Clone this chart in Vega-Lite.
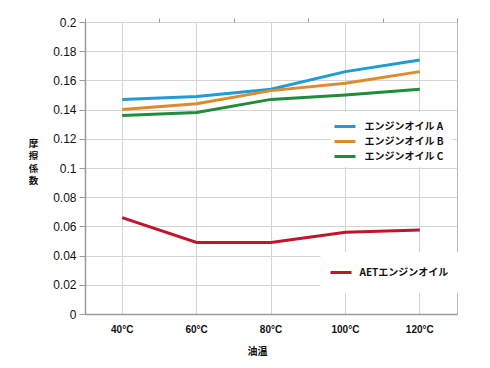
{
  "$schema": "https://vega.github.io/schema/vega-lite/v6.json",
  "width": 372,
  "height": 292,
  "autosize": {"type": "none"},
  "padding": {"left": 85, "top": 22, "right": 33, "bottom": 54},
  "background": "white",
  "config": {
    "view": {"stroke": "#b8b8b8", "strokeWidth": 1},
    "axis": {"gridColor": "#d4d4d4", "gridWidth": 1, "domainColor": "#9a9a9a", "domainWidth": 1.5, "tickColor": "#9a9a9a", "labelColor": "#111", "titleColor": "#111"},
    "legend": {"symbolStrokeWidth": 3, "labelFont": "Noto Sans CJK JP", "labelFontSize": 10, "labelFontWeight": "bold", "labelColor": "#111", "rowPadding": 0, "symbolType": "M-2.1,0H2.1", "symbolSize": 100, "fillColor": "white", "strokeColor": null}
  },
  "data": {"values": [
    {"temp": "40°C", "oil": "エンジンオイル A", "mu": 0.147},
    {"temp": "60°C", "oil": "エンジンオイル A", "mu": 0.149},
    {"temp": "80°C", "oil": "エンジンオイル A", "mu": 0.154},
    {"temp": "100°C", "oil": "エンジンオイル A", "mu": 0.166},
    {"temp": "120°C", "oil": "エンジンオイル A", "mu": 0.174},
    {"temp": "40°C", "oil": "エンジンオイル B", "mu": 0.140},
    {"temp": "60°C", "oil": "エンジンオイル B", "mu": 0.144},
    {"temp": "80°C", "oil": "エンジンオイル B", "mu": 0.153},
    {"temp": "100°C", "oil": "エンジンオイル B", "mu": 0.158},
    {"temp": "120°C", "oil": "エンジンオイル B", "mu": 0.166},
    {"temp": "40°C", "oil": "エンジンオイル C", "mu": 0.136},
    {"temp": "60°C", "oil": "エンジンオイル C", "mu": 0.138},
    {"temp": "80°C", "oil": "エンジンオイル C", "mu": 0.147},
    {"temp": "100°C", "oil": "エンジンオイル C", "mu": 0.150},
    {"temp": "120°C", "oil": "エンジンオイル C", "mu": 0.154},
    {"temp": "40°C", "oil": "AETエンジンオイル", "mu": 0.066},
    {"temp": "60°C", "oil": "AETエンジンオイル", "mu": 0.049},
    {"temp": "80°C", "oil": "AETエンジンオイル", "mu": 0.049},
    {"temp": "100°C", "oil": "AETエンジンオイル", "mu": 0.056},
    {"temp": "120°C", "oil": "AETエンジンオイル", "mu": 0.0575}
  ]},
  "encoding": {
    "y": {
      "field": "mu", "type": "quantitative",
      "scale": {"domain": [0, 0.2], "nice": false, "zero": true},
      "axis": {
        "values": [0, 0.02, 0.04, 0.06, 0.08, 0.1, 0.12, 0.14, 0.16, 0.18, 0.2],
        "labelExpr": "format(datum.value, '~g')",
        "labelFont": "Liberation Sans", "labelFontSize": 12, "labelPadding": 3, "tickSize": 6,
        "title": ["摩", "擦", "係", "数"],
        "titleFont": "Noto Sans CJK JP", "titleFontSize": 9.5, "titleFontWeight": "bold",
        "titleAngle": 0, "titleAlign": "center", "titleBaseline": "top",
        "titleX": -52, "titleY": 116, "titleLineHeight": 12.5
      }
    }
  },
  "layer": [
    {
      "transform": [{"filter": "datum.oil === 'エンジンオイル A' || datum.oil === 'エンジンオイル B'"}],
      "mark": {"type": "line", "strokeWidth": 3},
      "encoding": {
        "x": {
          "field": "temp", "type": "ordinal",
          "scale": {"type": "band", "paddingInner": 0, "paddingOuter": 0, "domain": ["40°C", "60°C", "80°C", "100°C", "120°C"]},
          "axis": {
            "labelAngle": 0, "ticks": false, "tickSize": 0, "grid": true,
            "labelFont": "Liberation Sans", "labelFontSize": 10, "labelFontWeight": "bold", "labelPadding": 10,
            "title": "油温", "titleFont": "Noto Sans CJK JP", "titleFontSize": 10, "titleFontWeight": "bold",
            "titleX": 172, "titleY": 37, "titleAlign": "center", "titleBaseline": "middle", "titleAnchor": null
          }
        },
        "color": {
          "field": "oil", "type": "nominal",
          "scale": {"domain": ["エンジンオイル A", "エンジンオイル B"], "range": ["#1f9bd5", "#e08a2e"]},
          "legend": {"title": null, "orient": "none", "legendX": 245.5, "legendY": 90, "padding": 8, "labelOffset": 13, "rowPadding": 2}
        }
      }
    },
    {
      "transform": [{"filter": "datum.oil === 'エンジンオイル C'"}],
      "mark": {"type": "line", "strokeWidth": 3},
      "encoding": {
        "x": {
          "field": "temp", "type": "ordinal",
          "axis": {"tickBand": "extent", "ticks": true, "tickSize": 4, "labels": false, "grid": false, "domain": false, "title": null}
        },
        "color": {
          "field": "oil", "type": "nominal",
          "scale": {"domain": ["エンジンオイル C"], "range": ["#1e8d3c"]},
          "legend": {"title": null, "orient": "none", "legendX": 249.5, "legendY": 124, "padding": 4, "labelOffset": 13}
        }
      }
    },
    {
      "transform": [{"filter": "datum.oil === 'AETエンジンオイル'"}],
      "mark": {"type": "line", "strokeWidth": 3},
      "encoding": {
        "x": {"field": "temp", "type": "ordinal", "axis": null},
        "color": {
          "field": "oil", "type": "nominal",
          "scale": {"domain": ["AETエンジンオイル"], "range": ["#c0152a"]},
          "legend": {"title": null, "orient": "none", "legendX": 235.5, "legendY": 230, "padding": 14, "labelOffset": 12}
        }
      }
    }
  ],
  "resolve": {"scale": {"color": "independent"}, "axis": {"x": "independent"}}
}
